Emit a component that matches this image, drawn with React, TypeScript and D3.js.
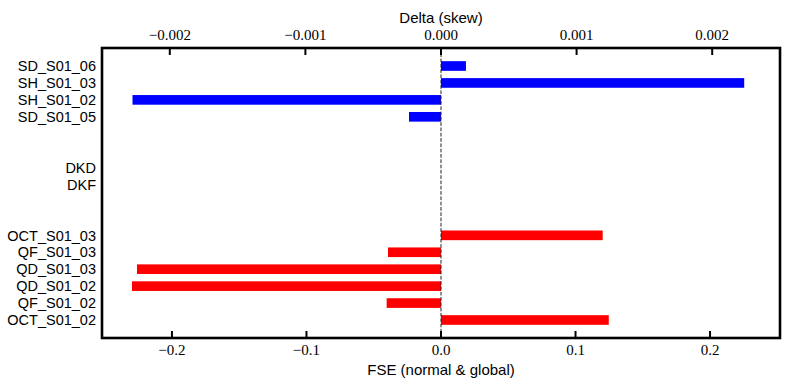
import React from "react";
import * as d3 from "d3";

const rowLabels = [
  "SD_S01_06", "SH_S01_03", "SH_S01_02", "SD_S01_05", "", "",
  "DKD", "DKF", "", "",
  "OCT_S01_03", "QF_S01_03", "QD_S01_03", "QD_S01_02", "QF_S01_02", "OCT_S01_02",
];
const deltaNames = ["SD_S01_06", "SH_S01_03", "SH_S01_02", "SD_S01_05"];
const deltaValues = [0.000184, 0.002236, -0.002275, -0.000236];
const fseNames = ["OCT_S01_03", "QF_S01_03", "QD_S01_03", "QD_S01_02", "QF_S01_02", "OCT_S01_02"];
const fseValues = [0.1202, -0.0394, -0.226, -0.2297, -0.0404, 0.1247];
const bottomTicks = [-0.2, -0.1, 0.0, 0.1, 0.2];
const topTicks = [-0.002, -0.001, 0.0, 0.001, 0.002];

const W = 790, H = 390;
const L = 102, R = 780, T = 48, B = 338;
const barH = 0.57;
const nRows = rowLabels.length;
const span = nRows - 1 + barH;
const marg = 0.05 * span;

const xB = d3.scaleLinear().domain([-0.252, 0.252]).range([L, R]);
const xT = d3.scaleLinear().domain([-0.0025, 0.0025]).range([L, R]);
const y = d3.scaleLinear().domain([-barH / 2 - marg, nRows - 1 + barH / 2 + marg]).range([T, B]);
const step = y(1) - y(0);

const sans = "'Liberation Sans', Arial, sans-serif";
const serif = "'Liberation Serif', 'Times New Roman', serif";
const fmtB = (v: number) => (v < 0 ? "\u2212" : "") + Math.abs(v).toFixed(1);
const fmtT = (v: number) => (v < 0 ? "\u2212" : "") + Math.abs(v).toFixed(3);

export default function App() {
  return (
    <svg width={W} height={H} style={{ position: "absolute", left: 0, top: 0 }}>
      <rect x={0} y={0} width={W} height={H} fill="white" />
      {deltaNames.map((n, i) => {
        const r = rowLabels.indexOf(n);
        const v = deltaValues[i];
        const x0 = xT(Math.min(0, v)), x1 = xT(Math.max(0, v));
        return <rect key={n} x={x0} width={x1 - x0} y={y(r) - (barH * step) / 2} height={barH * step} fill="#0000ff" />;
      })}
      {fseNames.map((n, i) => {
        const r = rowLabels.indexOf(n);
        const v = fseValues[i];
        const x0 = xB(Math.min(0, v)), x1 = xB(Math.max(0, v));
        return <rect key={n} x={x0} width={x1 - x0} y={y(r) - (barH * step) / 2} height={barH * step} fill="#ff0000" />;
      })}
      <line x1={xB(0)} x2={xB(0)} y1={T} y2={B} stroke="#222" strokeWidth={1} strokeDasharray="3.7,1.6" />
      {bottomTicks.map((t) => (
        <g key={"b" + t}>
          <line x1={xB(t)} x2={xB(t)} y1={B} y2={B - 7} stroke="black" strokeWidth={2} />
          <text x={xB(t)} y={355} textAnchor="middle" fontFamily={serif} fontSize={15} fill="black">{fmtB(t)}</text>
        </g>
      ))}
      {topTicks.map((t) => (
        <g key={"t" + t}>
          <line x1={xT(t)} x2={xT(t)} y1={T} y2={T + 7} stroke="black" strokeWidth={2} />
          <text x={xT(t)} y={40} textAnchor="middle" fontFamily={serif} fontSize={15} fill="black">{fmtT(t)}</text>
        </g>
      ))}
      {rowLabels.map((l, i) =>
        l ? (
          <text key={l + i} x={96} y={y(i)} dy="0.36em" textAnchor="end" fontFamily={sans} fontSize={14.5} fill="black">{l}</text>
        ) : null
      )}
      <rect x={L} y={T} width={R - L} height={B - T} fill="none" stroke="black" strokeWidth={2.6} />
      <text x={(L + R) / 2} y={23} textAnchor="middle" fontFamily={sans} fontSize={15} fill="black">Delta (skew)</text>
      <text x={(L + R) / 2} y={375} textAnchor="middle" fontFamily={sans} fontSize={15} fill="black">FSE (normal &amp; global)</text>
    </svg>
  );
}
